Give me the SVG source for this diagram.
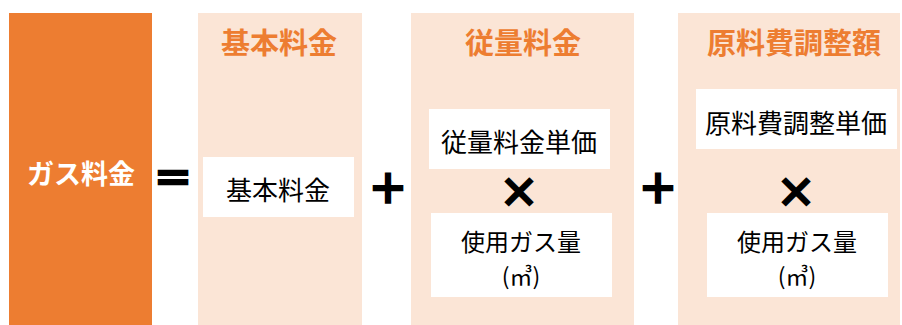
<svg xmlns="http://www.w3.org/2000/svg" width="902" height="325" viewBox="0 0 902 325">
<style>
text{font-family:"Noto Sans CJK JP","Noto Sans",sans-serif;dominant-baseline:central;text-anchor:middle}
.col{fill:#FBE5D6}
.box{fill:#FFFFFF}
.title{fill:#ED7D31;font-size:29px;font-weight:bold}
.lbl{fill:#000;font-size:26px}
.lbl2{fill:#000;font-size:24px}
.unit{fill:#000;font-size:23px}
.op{fill:#000;stroke:#000;stroke-width:2.2px;stroke-linejoin:miter;font-size:40px;font-weight:bold}
</style>
<rect width="902" height="325" fill="#FFFFFF"/>
<g id="total">
<rect x="9" y="13" width="143" height="312" fill="#ED7D31"/>
<text x="81" y="172" fill="#FFFFFF" font-size="27" font-weight="bold">ガス料金</text>
</g>
<g id="ops">
<text class="op" x="173" y="176">＝</text>
<text class="op" x="388" y="186">＋</text>
<text class="op" x="658" y="186">＋</text>
</g>
<g id="basic">
<rect class="col" x="198" y="13" width="164" height="312"/>
<text class="title" x="279" y="41">基本料金</text>
<rect class="box" x="203" y="157" width="151" height="60"/>
<text class="lbl" x="278" y="188">基本料金</text>
</g>
<g id="usage">
<rect class="col" x="411" y="13" width="223" height="312"/>
<text class="title" x="523" y="41">従量料金</text>
<rect class="box" x="429" y="109" width="181" height="60"/>
<text class="lbl" x="519" y="140">従量料金単価</text>
<text class="op" x="519" y="190">×</text>
<rect class="box" x="431" y="213" width="181" height="84"/>
<text class="lbl2" x="521" y="240.5">使用ガス量</text>
<text class="unit" x="521" y="275">(㎥)</text>
</g>
<g id="fuel">
<rect class="col" x="678" y="13" width="222" height="312"/>
<text class="title" x="794" y="41">原料費調整額</text>
<rect class="box" x="696" y="89" width="201" height="60"/>
<text class="lbl" x="796" y="121">原料費調整単価</text>
<text class="op" x="796" y="190">×</text>
<rect class="box" x="707" y="213" width="181" height="84"/>
<text class="lbl2" x="797" y="240.5">使用ガス量</text>
<text class="unit" x="797" y="275">(㎥)</text>
</g>
<g id="connectors"></g>
</svg>
